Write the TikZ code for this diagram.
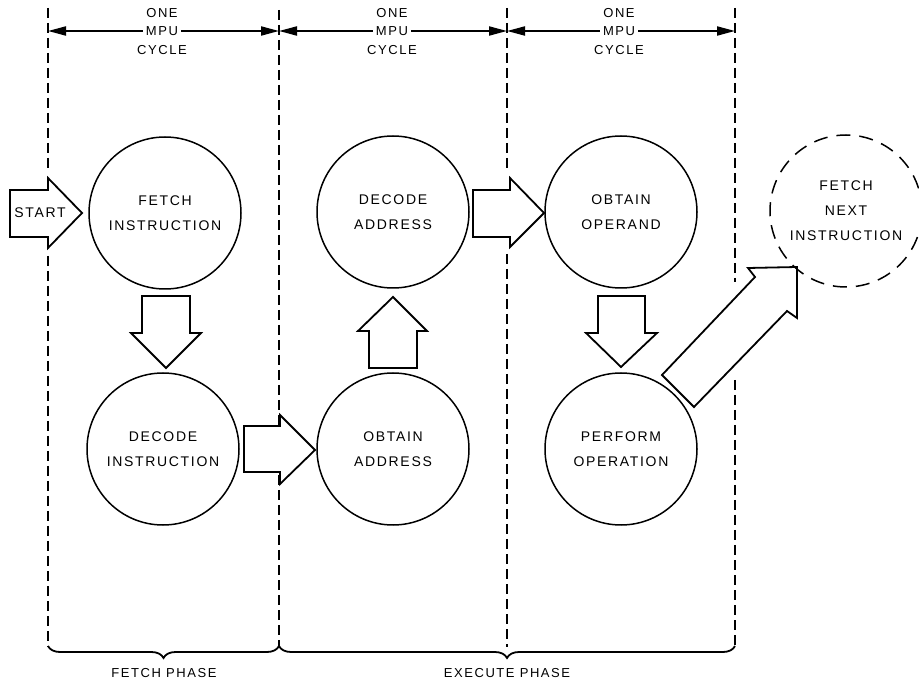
\documentclass[tikz,border=0pt]{standalone}
\usepackage{fontspec}
\setmainfont{Liberation Sans}[LetterSpace=12]
\usetikzlibrary{arrows.meta,decorations.pathreplacing}
\begin{document}
\begin{tikzpicture}[x=1pt,y=-1pt,
  circ/.style={circle,draw,line width=1.5pt,minimum size=152pt,inner sep=0pt,align=center,font=\fontsize{14}{25}\selectfont},
  blockarrow/.style={draw,line width=1.8pt,fill=white,line join=miter},
  phaseline/.style={dash pattern=on 10pt off 5pt,line width=1.2pt},
  dimline/.style={line width=2pt,-{Triangle[length=18pt,width=9pt]}},
  lbl/.style={font=\fontsize{13}{15}\selectfont,inner sep=3pt},
  bracestyle/.style={line width=1.8pt,decorate,decoration={brace,mirror,amplitude=12pt}}]
\useasboundingbox (0,0) rectangle (919,684);

% phase boundaries
\coordinate (v0t) at (48,8);   \coordinate (v0b) at (48,647);
\coordinate (v1t) at (279,10); \coordinate (v1b) at (279,647);
\coordinate (v2t) at (507,8);  \coordinate (v2b) at (507,647);
\coordinate (v3t) at (735,8);  \coordinate (v3b) at (735,647);
\draw[phaseline] (v0t) -- (48,172) (48,256) -- (v0b);
\draw[phaseline] (v1t) -- (v1b);
\draw[phaseline] (v2t) -- (507,172) (507,254) -- (v2b);
\draw[phaseline] (v3t) -- (735,282) (735,380) -- (v3b);

% MPU cycle dimensions
\node[lbl] (m1) at (162,31) {MPU};
\node[lbl] (o1) at (162,13) {ONE};
\node[lbl] (c1) at (162,50) {CYCLE};
\node[lbl] (m2) at (392,31) {MPU};
\node[lbl] (o2) at (392,13) {ONE};
\node[lbl] (c2) at (392,50) {CYCLE};
\node[lbl] (m3) at (619,31) {MPU};
\node[lbl] (o3) at (619,13) {ONE};
\node[lbl] (c3) at (619,50) {CYCLE};
\coordinate (a0) at (48,31);
\coordinate (a1) at (279,31);
\coordinate (a2) at (507,31);
\coordinate (a3) at (735,31);
\draw[dimline] (m1.west) -- (a0);
\draw[dimline] (m1.east) -- (a1);
\draw[dimline] (m2.west) -- (a1);
\draw[dimline] (m2.east) -- (a2);
\draw[dimline] (m3.west) -- (a2);
\draw[dimline] (m3.east) -- (a3);

% circles
\node[circ] (fi) at (165,213) {FETCH\\INSTRUCTION};
\node[circ] (di) at (163,449) {DECODE\\INSTRUCTION};
\node[circ] (da) at (393,212) {DECODE\\ADDRESS};
\node[circ] (oa) at (393,449) {OBTAIN\\ADDRESS};
\node[circ] (oo) at (621,212) {OBTAIN\\OPERAND};
\node[circ] (po) at (621,449) {PERFORM\\OPERATION};
\node[circ,dash pattern=on 14pt off 9pt] (fn) at (846,211) {FETCH\\NEXT\\INSTRUCTION};

% block arrows
\draw[blockarrow] (10,190) -- (48,190) -- (48,178) -- (82,213) -- (48,248) -- (48,237) -- (10,237) -- cycle;
\node[font=\fontsize{14}{16}\selectfont,inner sep=0pt] (st) at (40,213) {START};
\draw[blockarrow] (142,296) -- (190,296) -- (190,333) -- (201,333) -- (166,368) -- (131,333) -- (142,333) -- cycle;
\draw[blockarrow] (244,426) -- (280,426) -- (280,415) -- (315,450) -- (280,484) -- (280,472) -- (244,472) -- cycle;
\draw[blockarrow] (369,368) -- (417,368) -- (417,331) -- (427,331) -- (393,297) -- (358,331) -- (369,331) -- cycle;
\draw[blockarrow] (473,190) -- (510,190) -- (510,178) -- (544,213) -- (510,247) -- (510,237) -- (473,237) -- cycle;
\draw[blockarrow] (598,296) -- (645,296) -- (645,333) -- (657,333) -- (621,367) -- (586,333) -- (598,333) -- cycle;
\draw[blockarrow,fill=none] (662,375) -- (755,277) -- (748,268) -- (797,267) -- (797,318) -- (787,311) -- (694,407) -- cycle;

% phase braces
\draw[bracestyle] (48,646) -- (279,646);
\draw[bracestyle] (279,646) -- (735,646);
\node[lbl] (fp) at (164,673) {FETCH PHASE};
\node[lbl] (ep) at (507,673) {EXECUTE PHASE};
\end{tikzpicture}
\end{document}
